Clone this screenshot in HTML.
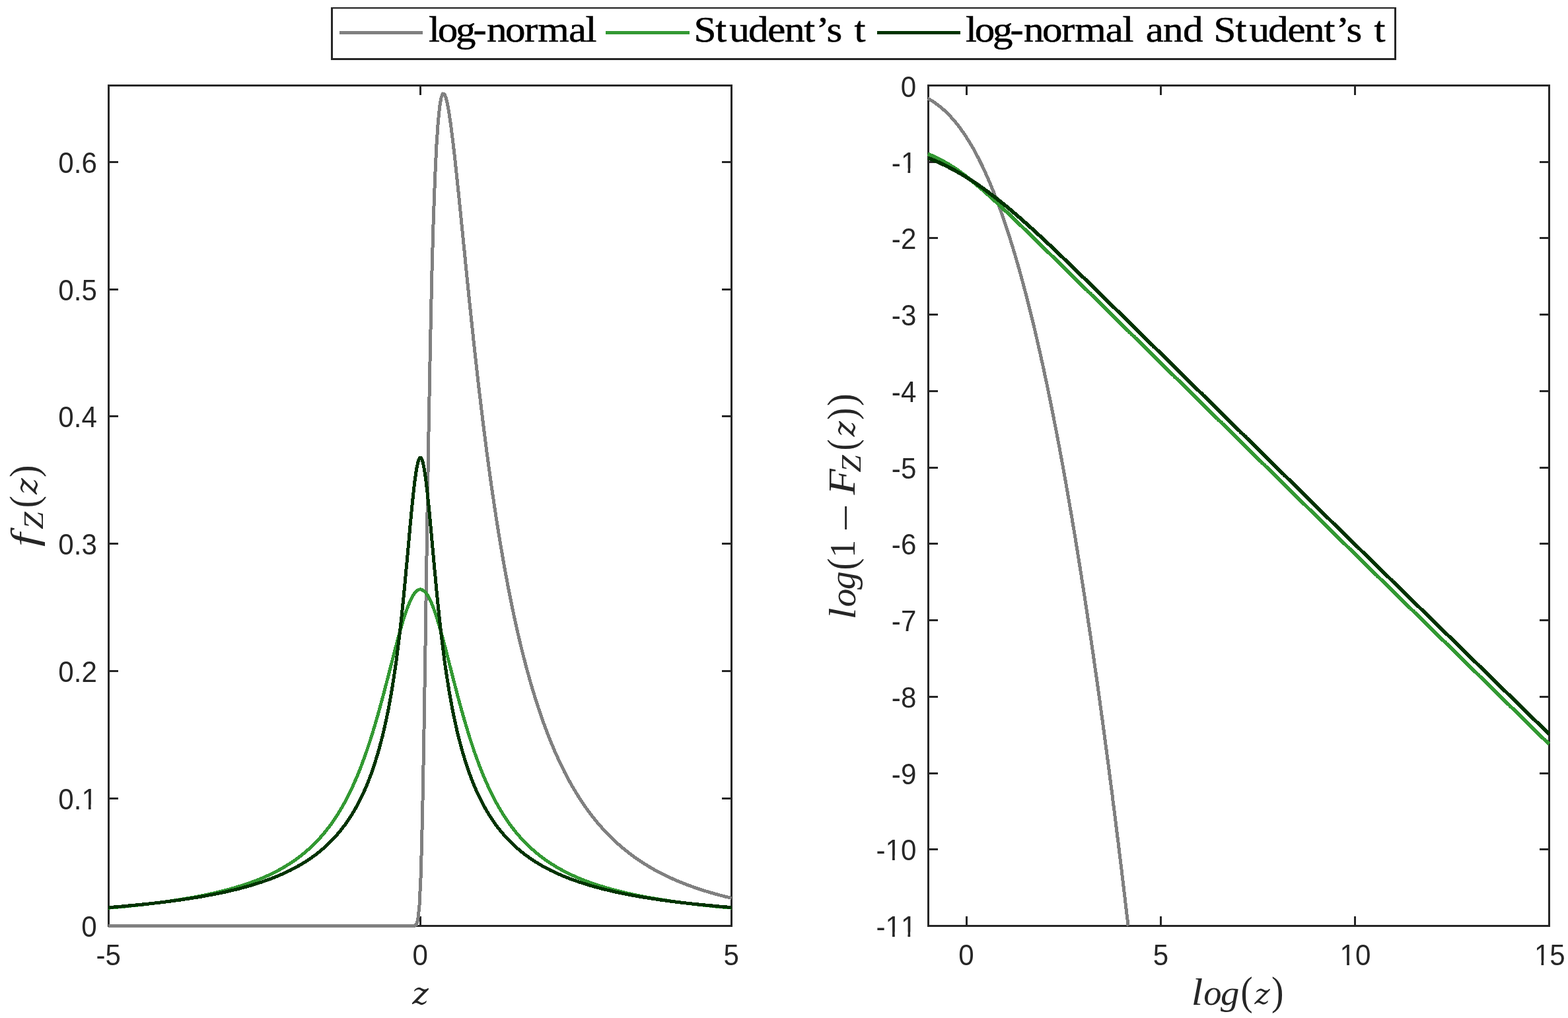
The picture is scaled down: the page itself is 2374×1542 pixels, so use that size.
<!DOCTYPE html>
<html lang="en"><head><meta charset="utf-8"><title>Densities and tails</title>
<style>html,body{margin:0;padding:0;background:#fff}svg{display:block}.tk{font-family:"Liberation Sans",sans-serif;font-kerning:none;font-size:44.2px;fill:#262626}.it{font-family:"Liberation Serif",serif;font-style:italic;font-size:100px;fill:#262626}.dj{font-family:"DejaVu Serif",serif;font-style:italic;font-size:100px;fill:#262626}.rm{font-family:"Liberation Serif",serif;font-size:100px;fill:#262626}.lg{font-family:"Liberation Serif",serif;font-size:100px;fill:#000;stroke:#000;stroke-width:1px}</style></head><body>
<svg width="2374" height="1542" viewBox="0 0 2374 1542" role="img" aria-label="Densities f_Z(z) and log tail probabilities log(1 - F_Z(z)) for log-normal, Student’s t, and log-normal and Student’s t">
<rect width="2374" height="1542" fill="#fff"/>
<g stroke="#262626" stroke-width="3" fill="none" stroke-linecap="butt">
<rect x="164.5" y="129.5" width="943.0" height="1273.0"/>
<path d="M164.5,1402.5V1388.0M164.5,129.5V144.0M636.5,1402.5V1388.0M636.5,129.5V144.0M1107.5,1402.5V1388.0M1107.5,129.5V144.0M164.5,1402.5H179.0M1107.5,1402.5H1093.0M164.5,1209.5H179.0M1107.5,1209.5H1093.0M164.5,1016.5H179.0M1107.5,1016.5H1093.0M164.5,823.5H179.0M1107.5,823.5H1093.0M164.5,630.5H179.0M1107.5,630.5H1093.0M164.5,438.5H179.0M1107.5,438.5H1093.0M164.5,245.5H179.0M1107.5,245.5H1093.0"/>
</g>
<g stroke="#262626" stroke-width="3" fill="none" stroke-linecap="butt">
<rect x="1405.5" y="129.5" width="940.0" height="1273.0"/>
<path d="M1463.5,1402.5V1388.0M1463.5,129.5V144.0M1757.5,1402.5V1388.0M1757.5,129.5V144.0M2051.5,1402.5V1388.0M2051.5,129.5V144.0M2345.5,1402.5V1388.0M2345.5,129.5V144.0M1405.5,129.5H1420.0M2345.5,129.5H2331.0M1405.5,245.5H1420.0M2345.5,245.5H2331.0M1405.5,360.5H1420.0M2345.5,360.5H2331.0M1405.5,476.5H1420.0M2345.5,476.5H2331.0M1405.5,592.5H1420.0M2345.5,592.5H2331.0M1405.5,708.5H1420.0M2345.5,708.5H2331.0M1405.5,823.5H1420.0M2345.5,823.5H2331.0M1405.5,939.5H1420.0M2345.5,939.5H2331.0M1405.5,1055.5H1420.0M2345.5,1055.5H2331.0M1405.5,1171.5H1420.0M2345.5,1171.5H2331.0M1405.5,1286.5H1420.0M2345.5,1286.5H2331.0M1405.5,1402.5H1420.0M2345.5,1402.5H2331.0"/>
</g>
<g class="tk">
<text transform="translate(164.2,1461.6) scale(0.953,1)" text-anchor="middle">-5</text>
<text transform="translate(636.2,1461.6) scale(0.953,1)" text-anchor="middle">0</text>
<text transform="translate(1107.2,1461.6) scale(0.953,1)" text-anchor="middle">5</text>
<text transform="translate(1463.0,1461.6) scale(0.953,1)" text-anchor="middle">0</text>
<text transform="translate(1757.5,1461.6) scale(0.953,1)" text-anchor="middle">5</text>
<text transform="translate(2052.0,1461.6) scale(0.953,1)" text-anchor="middle">10</text>
<text transform="translate(2346.3,1461.6) scale(0.953,1)" text-anchor="middle">15</text>
<text transform="translate(146.8,1418.7) scale(0.953,1)" text-anchor="end">0</text>
<text transform="translate(146.8,1225.7) scale(0.953,1)" text-anchor="end">0.1</text>
<text transform="translate(146.8,1032.7) scale(0.953,1)" text-anchor="end">0.2</text>
<text transform="translate(146.8,839.7) scale(0.953,1)" text-anchor="end">0.3</text>
<text transform="translate(146.8,646.7) scale(0.953,1)" text-anchor="end">0.4</text>
<text transform="translate(146.8,454.7) scale(0.953,1)" text-anchor="end">0.5</text>
<text transform="translate(146.8,261.7) scale(0.953,1)" text-anchor="end">0.6</text>
<text transform="translate(1387.3,146.7) scale(0.953,1)" text-anchor="end">0</text>
<text transform="translate(1387.3,261.7) scale(0.953,1)" text-anchor="end">-1</text>
<text transform="translate(1387.3,376.7) scale(0.953,1)" text-anchor="end">-2</text>
<text transform="translate(1387.3,492.7) scale(0.953,1)" text-anchor="end">-3</text>
<text transform="translate(1387.3,608.7) scale(0.953,1)" text-anchor="end">-4</text>
<text transform="translate(1387.3,724.7) scale(0.953,1)" text-anchor="end">-5</text>
<text transform="translate(1387.3,839.7) scale(0.953,1)" text-anchor="end">-6</text>
<text transform="translate(1387.3,955.7) scale(0.953,1)" text-anchor="end">-7</text>
<text transform="translate(1387.3,1071.7) scale(0.953,1)" text-anchor="end">-8</text>
<text transform="translate(1387.3,1187.7) scale(0.953,1)" text-anchor="end">-9</text>
<text transform="translate(1387.3,1302.7) scale(0.953,1)" text-anchor="end">-10</text>
<text transform="translate(1387.3,1418.7) scale(0.953,1)" text-anchor="end">-11</text>
</g>
<g fill="#fff"><rect x="2031.04" y="1454.48" width="8.12" height="8.20"/><rect x="2042.89" y="1454.48" width="7.80" height="8.20"/><rect x="2325.34" y="1454.48" width="8.12" height="8.20"/><rect x="2337.19" y="1454.48" width="7.80" height="8.20"/><rect x="125.84" y="1218.58" width="8.12" height="8.20"/><rect x="137.69" y="1218.58" width="7.80" height="8.20"/><rect x="1366.34" y="254.58" width="8.12" height="8.20"/><rect x="1378.19" y="254.58" width="7.80" height="8.20"/><rect x="1342.91" y="1295.58" width="8.12" height="8.20"/><rect x="1354.76" y="1295.58" width="7.80" height="8.20"/><rect x="1342.91" y="1411.58" width="8.12" height="8.20"/><rect x="1354.76" y="1411.58" width="7.80" height="8.20"/><rect x="1366.34" y="1411.58" width="8.12" height="8.20"/><rect x="1378.19" y="1411.58" width="7.80" height="8.20"/></g>
<g fill="none" stroke-width="5" stroke-linejoin="round" stroke-linecap="butt" shape-rendering="crispEdges">
<path stroke="#808080" d="M163.6,1402.5 L167.0,1402.5 L169.3,1402.5 L171.7,1402.5 L174.1,1402.5 L176.4,1402.5 L178.8,1402.5 L181.1,1402.5 L183.5,1402.5 L185.9,1402.5 L188.2,1402.5 L190.6,1402.5 L193.0,1402.5 L195.3,1402.5 L197.7,1402.5 L200.1,1402.5 L202.4,1402.5 L204.8,1402.5 L207.1,1402.5 L209.5,1402.5 L211.9,1402.5 L214.2,1402.5 L216.6,1402.5 L219.0,1402.5 L221.3,1402.5 L223.7,1402.5 L226.0,1402.5 L228.4,1402.5 L230.8,1402.5 L233.1,1402.5 L235.5,1402.5 L237.9,1402.5 L240.2,1402.5 L242.6,1402.5 L245.0,1402.5 L247.3,1402.5 L249.7,1402.5 L252.0,1402.5 L254.4,1402.5 L256.8,1402.5 L259.1,1402.5 L261.5,1402.5 L263.9,1402.5 L266.2,1402.5 L268.6,1402.5 L271.0,1402.5 L273.3,1402.5 L275.7,1402.5 L278.0,1402.5 L280.4,1402.5 L282.8,1402.5 L285.1,1402.5 L287.5,1402.5 L289.9,1402.5 L292.2,1402.5 L294.6,1402.5 L297.0,1402.5 L299.3,1402.5 L301.7,1402.5 L304.0,1402.5 L306.4,1402.5 L308.8,1402.5 L311.1,1402.5 L313.5,1402.5 L315.9,1402.5 L318.2,1402.5 L320.6,1402.5 L322.9,1402.5 L325.3,1402.5 L327.7,1402.5 L330.0,1402.5 L332.4,1402.5 L334.8,1402.5 L337.1,1402.5 L339.5,1402.5 L341.9,1402.5 L344.2,1402.5 L346.6,1402.5 L348.9,1402.5 L351.3,1402.5 L353.7,1402.5 L356.0,1402.5 L358.4,1402.5 L360.8,1402.5 L363.1,1402.5 L365.5,1402.5 L367.9,1402.5 L370.2,1402.5 L372.6,1402.5 L374.9,1402.5 L377.3,1402.5 L379.7,1402.5 L382.0,1402.5 L384.4,1402.5 L386.8,1402.5 L389.1,1402.5 L391.5,1402.5 L393.9,1402.5 L396.2,1402.5 L398.6,1402.5 L400.9,1402.5 L403.3,1402.5 L405.7,1402.5 L408.0,1402.5 L410.4,1402.5 L412.8,1402.5 L415.1,1402.5 L417.5,1402.5 L419.8,1402.5 L422.2,1402.5 L424.6,1402.5 L426.9,1402.5 L429.3,1402.5 L431.7,1402.5 L434.0,1402.5 L436.4,1402.5 L438.8,1402.5 L441.1,1402.5 L443.5,1402.5 L445.8,1402.5 L448.2,1402.5 L450.6,1402.5 L452.9,1402.5 L455.3,1402.5 L457.7,1402.5 L460.0,1402.5 L462.4,1402.5 L464.8,1402.5 L467.1,1402.5 L469.5,1402.5 L471.8,1402.5 L474.2,1402.5 L476.6,1402.5 L478.9,1402.5 L481.3,1402.5 L483.7,1402.5 L486.0,1402.5 L488.4,1402.5 L490.8,1402.5 L493.1,1402.5 L495.5,1402.5 L497.8,1402.5 L500.2,1402.5 L502.6,1402.5 L504.9,1402.5 L507.3,1402.5 L509.7,1402.5 L512.0,1402.5 L514.4,1402.5 L516.7,1402.5 L519.1,1402.5 L521.5,1402.5 L523.8,1402.5 L526.2,1402.5 L528.6,1402.5 L530.9,1402.5 L533.3,1402.5 L535.7,1402.5 L538.0,1402.5 L540.4,1402.5 L542.7,1402.5 L545.1,1402.5 L547.5,1402.5 L549.8,1402.5 L552.2,1402.5 L554.6,1402.5 L556.9,1402.5 L559.3,1402.5 L561.7,1402.5 L564.0,1402.5 L566.4,1402.5 L568.7,1402.5 L571.1,1402.5 L573.5,1402.5 L575.8,1402.5 L578.2,1402.5 L580.6,1402.5 L582.9,1402.5 L585.3,1402.5 L587.7,1402.5 L590.0,1402.5 L592.4,1402.5 L594.7,1402.5 L597.1,1402.5 L599.5,1402.5 L601.8,1402.5 L604.2,1402.5 L606.6,1402.5 L608.9,1402.5 L611.3,1402.5 L613.6,1402.5 L616.0,1402.5 L618.4,1402.5 L620.7,1402.5 L623.1,1402.5 L625.5,1402.5 L627.8,1402.2 L630.2,1400.7 L632.6,1394.1 L634.9,1373.2 L637.3,1323.9 L639.6,1234.5 L642.0,1105.9 L644.4,952.7 L646.7,795.1 L649.1,648.9 L651.5,522.2 L653.8,417.5 L656.2,333.8 L658.6,268.9 L660.9,220.3 L663.3,185.4 L665.6,161.9 L668.0,148.0 L670.4,141.9 L672.7,142.2 L675.1,147.8 L677.5,157.5 L679.8,170.7 L682.2,186.7 L684.5,204.8 L686.9,224.6 L689.3,245.6 L691.6,267.7 L694.0,290.4 L696.4,313.6 L698.7,337.1 L701.1,360.8 L703.5,384.4 L705.8,407.9 L708.2,431.2 L710.5,454.3 L712.9,477.0 L715.3,499.4 L717.6,521.4 L720.0,543.0 L722.4,564.1 L724.7,584.8 L727.1,604.9 L729.5,624.7 L731.8,643.9 L734.2,662.7 L736.5,680.9 L738.9,698.7 L741.3,716.1 L743.6,732.9 L746.0,749.4 L748.4,765.3 L750.7,780.9 L753.1,796.0 L755.5,810.7 L757.8,824.9 L760.2,838.8 L762.5,852.3 L764.9,865.4 L767.3,878.2 L769.6,890.6 L772.0,902.6 L774.4,914.3 L776.7,925.7 L779.1,936.8 L781.4,947.5 L783.8,958.0 L786.2,968.1 L788.5,978.0 L790.9,987.6 L793.3,997.0 L795.6,1006.1 L798.0,1014.9 L800.4,1023.5 L802.7,1031.9 L805.1,1040.0 L807.4,1047.9 L809.8,1055.6 L812.2,1063.1 L814.5,1070.4 L816.9,1077.5 L819.3,1084.5 L821.6,1091.2 L824.0,1097.8 L826.4,1104.2 L828.7,1110.4 L831.1,1116.5 L833.4,1122.4 L835.8,1128.1 L838.2,1133.7 L840.5,1139.2 L842.9,1144.5 L845.3,1149.7 L847.6,1154.8 L850.0,1159.8 L852.4,1164.6 L854.7,1169.3 L857.1,1173.9 L859.4,1178.3 L861.8,1182.7 L864.2,1187.0 L866.5,1191.1 L868.9,1195.2 L871.3,1199.1 L873.6,1203.0 L876.0,1206.8 L878.3,1210.5 L880.7,1214.1 L883.1,1217.6 L885.4,1221.0 L887.8,1224.4 L890.2,1227.6 L892.5,1230.8 L894.9,1234.0 L897.3,1237.0 L899.6,1240.0 L902.0,1242.9 L904.3,1245.8 L906.7,1248.6 L909.1,1251.3 L911.4,1254.0 L913.8,1256.6 L916.2,1259.2 L918.5,1261.7 L920.9,1264.1 L923.3,1266.5 L925.6,1268.8 L928.0,1271.1 L930.3,1273.4 L932.7,1275.6 L935.1,1277.7 L937.4,1279.8 L939.8,1281.9 L942.2,1283.9 L944.5,1285.9 L946.9,1287.8 L949.3,1289.7 L951.6,1291.5 L954.0,1293.4 L956.3,1295.1 L958.7,1296.9 L961.1,1298.6 L963.4,1300.3 L965.8,1301.9 L968.2,1303.5 L970.5,1305.1 L972.9,1306.6 L975.2,1308.2 L977.6,1309.6 L980.0,1311.1 L982.3,1312.5 L984.7,1313.9 L987.1,1315.3 L989.4,1316.6 L991.8,1318.0 L994.2,1319.3 L996.5,1320.5 L998.9,1321.8 L1001.2,1323.0 L1003.6,1324.2 L1006.0,1325.4 L1008.3,1326.5 L1010.7,1327.7 L1013.1,1328.8 L1015.4,1329.9 L1017.8,1330.9 L1020.2,1332.0 L1022.5,1333.0 L1024.9,1334.0 L1027.2,1335.0 L1029.6,1336.0 L1032.0,1337.0 L1034.3,1337.9 L1036.7,1338.8 L1039.1,1339.8 L1041.4,1340.7 L1043.8,1341.5 L1046.2,1342.4 L1048.5,1343.2 L1050.9,1344.1 L1053.2,1344.9 L1055.6,1345.7 L1058.0,1346.5 L1060.3,1347.3 L1062.7,1348.0 L1065.1,1348.8 L1067.4,1349.5 L1069.8,1350.2 L1072.1,1351.0 L1074.5,1351.7 L1076.9,1352.4 L1079.2,1353.0 L1081.6,1353.7 L1084.0,1354.4 L1086.3,1355.0 L1088.7,1355.6 L1091.1,1356.3 L1093.4,1356.9 L1095.8,1357.5 L1098.1,1358.1 L1100.5,1358.6 L1102.9,1359.2 L1105.2,1359.8 L1107.6,1360.3"/>
<path stroke="#339933" d="M164.0,1375.2 L167.4,1375.0 L169.7,1374.8 L172.1,1374.6 L174.5,1374.4 L176.8,1374.2 L179.2,1374.0 L181.5,1373.7 L183.9,1373.5 L186.3,1373.3 L188.6,1373.1 L191.0,1372.8 L193.4,1372.6 L195.7,1372.4 L198.1,1372.1 L200.5,1371.9 L202.8,1371.6 L205.2,1371.4 L207.5,1371.1 L209.9,1370.9 L212.3,1370.6 L214.6,1370.4 L217.0,1370.1 L219.4,1369.8 L221.7,1369.6 L224.1,1369.3 L226.4,1369.0 L228.8,1368.7 L231.2,1368.4 L233.5,1368.1 L235.9,1367.8 L238.3,1367.5 L240.6,1367.2 L243.0,1366.9 L245.4,1366.6 L247.7,1366.3 L250.1,1366.0 L252.4,1365.6 L254.8,1365.3 L257.2,1365.0 L259.5,1364.6 L261.9,1364.3 L264.3,1363.9 L266.6,1363.6 L269.0,1363.2 L271.4,1362.8 L273.7,1362.5 L276.1,1362.1 L278.4,1361.7 L280.8,1361.3 L283.2,1360.9 L285.5,1360.5 L287.9,1360.1 L290.3,1359.6 L292.6,1359.2 L295.0,1358.8 L297.4,1358.3 L299.7,1357.9 L302.1,1357.4 L304.4,1357.0 L306.8,1356.5 L309.2,1356.0 L311.5,1355.5 L313.9,1355.0 L316.3,1354.5 L318.6,1354.0 L321.0,1353.5 L323.3,1353.0 L325.7,1352.4 L328.1,1351.9 L330.4,1351.3 L332.8,1350.7 L335.2,1350.1 L337.5,1349.5 L339.9,1348.9 L342.3,1348.3 L344.6,1347.7 L347.0,1347.1 L349.3,1346.4 L351.7,1345.7 L354.1,1345.1 L356.4,1344.4 L358.8,1343.7 L361.2,1342.9 L363.5,1342.2 L365.9,1341.5 L368.3,1340.7 L370.6,1339.9 L373.0,1339.1 L375.3,1338.3 L377.7,1337.5 L380.1,1336.6 L382.4,1335.8 L384.8,1334.9 L387.2,1334.0 L389.5,1333.1 L391.9,1332.1 L394.3,1331.1 L396.6,1330.2 L399.0,1329.2 L401.3,1328.1 L403.7,1327.1 L406.1,1326.0 L408.4,1324.9 L410.8,1323.8 L413.2,1322.6 L415.5,1321.4 L417.9,1320.2 L420.2,1319.0 L422.6,1317.7 L425.0,1316.4 L427.3,1315.0 L429.7,1313.7 L432.1,1312.3 L434.4,1310.8 L436.8,1309.4 L439.2,1307.8 L441.5,1306.3 L443.9,1304.7 L446.2,1303.1 L448.6,1301.4 L451.0,1299.7 L453.3,1297.9 L455.7,1296.1 L458.1,1294.2 L460.4,1292.3 L462.8,1290.3 L465.2,1288.2 L467.5,1286.1 L469.9,1284.0 L472.2,1281.8 L474.6,1279.5 L477.0,1277.1 L479.3,1274.7 L481.7,1272.2 L484.1,1269.6 L486.4,1267.0 L488.8,1264.3 L491.2,1261.4 L493.5,1258.5 L495.9,1255.5 L498.2,1252.5 L500.6,1249.3 L503.0,1246.0 L505.3,1242.6 L507.7,1239.1 L510.1,1235.4 L512.4,1231.7 L514.8,1227.8 L517.1,1223.8 L519.5,1219.7 L521.9,1215.4 L524.2,1211.0 L526.6,1206.4 L529.0,1201.7 L531.3,1196.8 L533.7,1191.8 L536.1,1186.5 L538.4,1181.1 L540.8,1175.6 L543.1,1169.8 L545.5,1163.9 L547.9,1157.7 L550.2,1151.4 L552.6,1144.8 L555.0,1138.1 L557.3,1131.1 L559.7,1123.9 L562.1,1116.6 L564.4,1109.0 L566.8,1101.2 L569.1,1093.2 L571.5,1085.0 L573.9,1076.6 L576.2,1068.1 L578.6,1059.3 L581.0,1050.5 L583.3,1041.5 L585.7,1032.4 L588.1,1023.2 L590.4,1014.0 L592.8,1004.7 L595.1,995.5 L597.5,986.4 L599.9,977.3 L602.2,968.5 L604.6,959.8 L607.0,951.4 L609.3,943.4 L611.7,935.7 L614.0,928.5 L616.4,921.9 L618.8,915.7 L621.1,910.2 L623.5,905.4 L625.9,901.3 L628.2,898.0 L630.6,895.5 L633.0,893.8 L635.3,892.9 L637.7,892.9 L640.0,893.8 L642.4,895.5 L644.8,898.0 L647.1,901.3 L649.5,905.4 L651.9,910.2 L654.2,915.7 L656.6,921.9 L659.0,928.5 L661.3,935.7 L663.7,943.4 L666.0,951.4 L668.4,959.8 L670.8,968.5 L673.1,977.3 L675.5,986.4 L677.9,995.5 L680.2,1004.7 L682.6,1014.0 L684.9,1023.2 L687.3,1032.4 L689.7,1041.5 L692.0,1050.5 L694.4,1059.3 L696.8,1068.1 L699.1,1076.6 L701.5,1085.0 L703.9,1093.2 L706.2,1101.2 L708.6,1109.0 L710.9,1116.6 L713.3,1123.9 L715.7,1131.1 L718.0,1138.1 L720.4,1144.8 L722.8,1151.4 L725.1,1157.7 L727.5,1163.9 L729.9,1169.8 L732.2,1175.6 L734.6,1181.1 L736.9,1186.5 L739.3,1191.8 L741.7,1196.8 L744.0,1201.7 L746.4,1206.4 L748.8,1211.0 L751.1,1215.4 L753.5,1219.7 L755.9,1223.8 L758.2,1227.8 L760.6,1231.7 L762.9,1235.4 L765.3,1239.1 L767.7,1242.6 L770.0,1246.0 L772.4,1249.3 L774.8,1252.5 L777.1,1255.5 L779.5,1258.5 L781.8,1261.4 L784.2,1264.3 L786.6,1267.0 L788.9,1269.6 L791.3,1272.2 L793.7,1274.7 L796.0,1277.1 L798.4,1279.5 L800.8,1281.8 L803.1,1284.0 L805.5,1286.1 L807.8,1288.2 L810.2,1290.3 L812.6,1292.3 L814.9,1294.2 L817.3,1296.1 L819.7,1297.9 L822.0,1299.7 L824.4,1301.4 L826.8,1303.1 L829.1,1304.7 L831.5,1306.3 L833.8,1307.8 L836.2,1309.4 L838.6,1310.8 L840.9,1312.3 L843.3,1313.7 L845.7,1315.0 L848.0,1316.4 L850.4,1317.7 L852.8,1319.0 L855.1,1320.2 L857.5,1321.4 L859.8,1322.6 L862.2,1323.8 L864.6,1324.9 L866.9,1326.0 L869.3,1327.1 L871.7,1328.1 L874.0,1329.2 L876.4,1330.2 L878.7,1331.1 L881.1,1332.1 L883.5,1333.1 L885.8,1334.0 L888.2,1334.9 L890.6,1335.8 L892.9,1336.6 L895.3,1337.5 L897.7,1338.3 L900.0,1339.1 L902.4,1339.9 L904.7,1340.7 L907.1,1341.5 L909.5,1342.2 L911.8,1342.9 L914.2,1343.7 L916.6,1344.4 L918.9,1345.1 L921.3,1345.7 L923.7,1346.4 L926.0,1347.1 L928.4,1347.7 L930.7,1348.3 L933.1,1348.9 L935.5,1349.5 L937.8,1350.1 L940.2,1350.7 L942.6,1351.3 L944.9,1351.9 L947.3,1352.4 L949.7,1353.0 L952.0,1353.5 L954.4,1354.0 L956.7,1354.5 L959.1,1355.0 L961.5,1355.5 L963.8,1356.0 L966.2,1356.5 L968.6,1357.0 L970.9,1357.4 L973.3,1357.9 L975.6,1358.3 L978.0,1358.8 L980.4,1359.2 L982.7,1359.6 L985.1,1360.1 L987.5,1360.5 L989.8,1360.9 L992.2,1361.3 L994.6,1361.7 L996.9,1362.1 L999.3,1362.5 L1001.6,1362.8 L1004.0,1363.2 L1006.4,1363.6 L1008.7,1363.9 L1011.1,1364.3 L1013.5,1364.6 L1015.8,1365.0 L1018.2,1365.3 L1020.6,1365.6 L1022.9,1366.0 L1025.3,1366.3 L1027.6,1366.6 L1030.0,1366.9 L1032.4,1367.2 L1034.7,1367.5 L1037.1,1367.8 L1039.5,1368.1 L1041.8,1368.4 L1044.2,1368.7 L1046.6,1369.0 L1048.9,1369.3 L1051.3,1369.6 L1053.6,1369.8 L1056.0,1370.1 L1058.4,1370.4 L1060.7,1370.6 L1063.1,1370.9 L1065.5,1371.1 L1067.8,1371.4 L1070.2,1371.6 L1072.5,1371.9 L1074.9,1372.1 L1077.3,1372.4 L1079.6,1372.6 L1082.0,1372.8 L1084.4,1373.1 L1086.7,1373.3 L1089.1,1373.5 L1091.5,1373.7 L1093.8,1374.0 L1096.2,1374.2 L1098.5,1374.4 L1100.9,1374.6 L1103.3,1374.8 L1105.6,1375.0 L1108.0,1375.2"/>
<path stroke="#003300" d="M164.0,1374.6 L167.4,1374.4 L169.7,1374.2 L172.1,1374.0 L174.5,1373.8 L176.8,1373.6 L179.2,1373.4 L181.5,1373.2 L183.9,1373.0 L186.3,1372.8 L188.6,1372.6 L191.0,1372.4 L193.4,1372.1 L195.7,1371.9 L198.1,1371.7 L200.5,1371.5 L202.8,1371.3 L205.2,1371.0 L207.5,1370.8 L209.9,1370.6 L212.3,1370.3 L214.6,1370.1 L217.0,1369.8 L219.4,1369.6 L221.7,1369.3 L224.1,1369.1 L226.4,1368.8 L228.8,1368.6 L231.2,1368.3 L233.5,1368.1 L235.9,1367.8 L238.3,1367.5 L240.6,1367.2 L243.0,1367.0 L245.4,1366.7 L247.7,1366.4 L250.1,1366.1 L252.4,1365.8 L254.8,1365.5 L257.2,1365.2 L259.5,1364.9 L261.9,1364.6 L264.3,1364.3 L266.6,1363.9 L269.0,1363.6 L271.4,1363.3 L273.7,1363.0 L276.1,1362.6 L278.4,1362.3 L280.8,1361.9 L283.2,1361.6 L285.5,1361.2 L287.9,1360.9 L290.3,1360.5 L292.6,1360.1 L295.0,1359.7 L297.4,1359.3 L299.7,1359.0 L302.1,1358.6 L304.4,1358.2 L306.8,1357.7 L309.2,1357.3 L311.5,1356.9 L313.9,1356.5 L316.3,1356.0 L318.6,1355.6 L321.0,1355.2 L323.3,1354.7 L325.7,1354.2 L328.1,1353.8 L330.4,1353.3 L332.8,1352.8 L335.2,1352.3 L337.5,1351.8 L339.9,1351.3 L342.3,1350.8 L344.6,1350.2 L347.0,1349.7 L349.3,1349.1 L351.7,1348.6 L354.1,1348.0 L356.4,1347.5 L358.8,1346.9 L361.2,1346.3 L363.5,1345.7 L365.9,1345.0 L368.3,1344.4 L370.6,1343.8 L373.0,1343.1 L375.3,1342.4 L377.7,1341.8 L380.1,1341.1 L382.4,1340.4 L384.8,1339.7 L387.2,1338.9 L389.5,1338.2 L391.9,1337.4 L394.3,1336.6 L396.6,1335.9 L399.0,1335.0 L401.3,1334.2 L403.7,1333.4 L406.1,1332.5 L408.4,1331.7 L410.8,1330.8 L413.2,1329.8 L415.5,1328.9 L417.9,1328.0 L420.2,1327.0 L422.6,1326.0 L425.0,1325.0 L427.3,1323.9 L429.7,1322.9 L432.1,1321.8 L434.4,1320.7 L436.8,1319.5 L439.2,1318.4 L441.5,1317.2 L443.9,1316.0 L446.2,1314.7 L448.6,1313.4 L451.0,1312.1 L453.3,1310.8 L455.7,1309.4 L458.1,1308.0 L460.4,1306.5 L462.8,1305.1 L465.2,1303.5 L467.5,1302.0 L469.9,1300.3 L472.2,1298.7 L474.6,1297.0 L477.0,1295.3 L479.3,1293.5 L481.7,1291.6 L484.1,1289.7 L486.4,1287.8 L488.8,1285.8 L491.2,1283.7 L493.5,1281.5 L495.9,1279.4 L498.2,1277.1 L500.6,1274.7 L503.0,1272.3 L505.3,1269.8 L507.7,1267.3 L510.1,1264.6 L512.4,1261.9 L514.8,1259.0 L517.1,1256.1 L519.5,1253.0 L521.9,1249.9 L524.2,1246.6 L526.6,1243.2 L529.0,1239.7 L531.3,1236.1 L533.7,1232.3 L536.1,1228.3 L538.4,1224.2 L540.8,1219.9 L543.1,1215.5 L545.5,1210.9 L547.9,1206.0 L550.2,1201.0 L552.6,1195.7 L555.0,1190.2 L557.3,1184.4 L559.7,1178.3 L562.1,1172.0 L564.4,1165.3 L566.8,1158.2 L569.1,1150.8 L571.5,1143.1 L573.9,1134.8 L576.2,1126.1 L578.6,1116.9 L581.0,1107.2 L583.3,1096.8 L585.7,1085.7 L588.1,1074.0 L590.4,1061.4 L592.8,1048.0 L595.1,1033.6 L597.5,1018.1 L599.9,1001.5 L602.2,983.6 L604.6,964.3 L607.0,943.6 L609.3,921.5 L611.7,898.0 L614.0,873.2 L616.4,847.5 L618.8,821.3 L621.1,795.3 L623.5,770.2 L625.9,747.1 L628.2,726.9 L630.6,710.7 L633.0,699.4 L635.3,693.5 L637.7,693.5 L640.0,699.4 L642.4,710.7 L644.8,726.9 L647.1,747.1 L649.5,770.2 L651.9,795.3 L654.2,821.3 L656.6,847.5 L659.0,873.2 L661.3,898.0 L663.7,921.5 L666.0,943.6 L668.4,964.3 L670.8,983.6 L673.1,1001.5 L675.5,1018.1 L677.9,1033.6 L680.2,1048.0 L682.6,1061.4 L684.9,1074.0 L687.3,1085.7 L689.7,1096.8 L692.0,1107.2 L694.4,1116.9 L696.8,1126.1 L699.1,1134.8 L701.5,1143.1 L703.9,1150.8 L706.2,1158.2 L708.6,1165.3 L710.9,1172.0 L713.3,1178.3 L715.7,1184.4 L718.0,1190.2 L720.4,1195.7 L722.8,1201.0 L725.1,1206.0 L727.5,1210.9 L729.9,1215.5 L732.2,1219.9 L734.6,1224.2 L736.9,1228.3 L739.3,1232.3 L741.7,1236.1 L744.0,1239.7 L746.4,1243.2 L748.8,1246.6 L751.1,1249.9 L753.5,1253.0 L755.9,1256.1 L758.2,1259.0 L760.6,1261.9 L762.9,1264.6 L765.3,1267.3 L767.7,1269.8 L770.0,1272.3 L772.4,1274.7 L774.8,1277.1 L777.1,1279.4 L779.5,1281.5 L781.8,1283.7 L784.2,1285.8 L786.6,1287.8 L788.9,1289.7 L791.3,1291.6 L793.7,1293.5 L796.0,1295.3 L798.4,1297.0 L800.8,1298.7 L803.1,1300.3 L805.5,1302.0 L807.8,1303.5 L810.2,1305.1 L812.6,1306.5 L814.9,1308.0 L817.3,1309.4 L819.7,1310.8 L822.0,1312.1 L824.4,1313.4 L826.8,1314.7 L829.1,1316.0 L831.5,1317.2 L833.8,1318.4 L836.2,1319.5 L838.6,1320.7 L840.9,1321.8 L843.3,1322.9 L845.7,1323.9 L848.0,1325.0 L850.4,1326.0 L852.8,1327.0 L855.1,1328.0 L857.5,1328.9 L859.8,1329.8 L862.2,1330.8 L864.6,1331.7 L866.9,1332.5 L869.3,1333.4 L871.7,1334.2 L874.0,1335.0 L876.4,1335.9 L878.7,1336.6 L881.1,1337.4 L883.5,1338.2 L885.8,1338.9 L888.2,1339.7 L890.6,1340.4 L892.9,1341.1 L895.3,1341.8 L897.7,1342.4 L900.0,1343.1 L902.4,1343.8 L904.7,1344.4 L907.1,1345.0 L909.5,1345.7 L911.8,1346.3 L914.2,1346.9 L916.6,1347.5 L918.9,1348.0 L921.3,1348.6 L923.7,1349.1 L926.0,1349.7 L928.4,1350.2 L930.7,1350.8 L933.1,1351.3 L935.5,1351.8 L937.8,1352.3 L940.2,1352.8 L942.6,1353.3 L944.9,1353.8 L947.3,1354.2 L949.7,1354.7 L952.0,1355.2 L954.4,1355.6 L956.7,1356.0 L959.1,1356.5 L961.5,1356.9 L963.8,1357.3 L966.2,1357.7 L968.6,1358.2 L970.9,1358.6 L973.3,1359.0 L975.6,1359.3 L978.0,1359.7 L980.4,1360.1 L982.7,1360.5 L985.1,1360.9 L987.5,1361.2 L989.8,1361.6 L992.2,1361.9 L994.6,1362.3 L996.9,1362.6 L999.3,1363.0 L1001.6,1363.3 L1004.0,1363.6 L1006.4,1363.9 L1008.7,1364.3 L1011.1,1364.6 L1013.5,1364.9 L1015.8,1365.2 L1018.2,1365.5 L1020.6,1365.8 L1022.9,1366.1 L1025.3,1366.4 L1027.6,1366.7 L1030.0,1367.0 L1032.4,1367.2 L1034.7,1367.5 L1037.1,1367.8 L1039.5,1368.1 L1041.8,1368.3 L1044.2,1368.6 L1046.6,1368.8 L1048.9,1369.1 L1051.3,1369.3 L1053.6,1369.6 L1056.0,1369.8 L1058.4,1370.1 L1060.7,1370.3 L1063.1,1370.6 L1065.5,1370.8 L1067.8,1371.0 L1070.2,1371.3 L1072.5,1371.5 L1074.9,1371.7 L1077.3,1371.9 L1079.6,1372.1 L1082.0,1372.4 L1084.4,1372.6 L1086.7,1372.8 L1089.1,1373.0 L1091.5,1373.2 L1093.8,1373.4 L1096.2,1373.6 L1098.5,1373.8 L1100.9,1374.0 L1103.3,1374.2 L1105.6,1374.4 L1108.0,1374.6"/>
</g>
<g fill="none" stroke-width="5" stroke-linejoin="round" stroke-linecap="butt" shape-rendering="crispEdges">
<path stroke="#808080" stroke-width="5.0" d="M1404.6,149.5 L1406.8,150.2 L1407.9,150.9 L1409.1,151.6 L1410.3,152.3 L1411.5,153.0 L1412.6,153.8 L1413.8,154.6 L1415.0,155.4 L1416.2,156.2 L1417.3,157.1 L1418.5,157.9 L1419.7,158.8 L1420.9,159.7 L1422.0,160.6 L1423.2,161.6 L1424.4,162.5 L1425.6,163.5 L1426.8,164.5 L1427.9,165.5 L1429.1,166.6 L1430.3,167.7 L1431.4,168.8 L1432.6,169.9 L1433.8,171.0 L1435.0,172.2 L1436.1,173.4 L1437.3,174.6 L1438.5,175.8 L1439.7,177.1 L1440.8,178.4 L1442.0,179.7 L1443.2,181.0 L1444.4,182.4 L1445.5,183.8 L1446.7,185.2 L1447.9,186.7 L1449.1,188.1 L1450.2,189.6 L1451.4,191.1 L1452.6,192.7 L1453.8,194.3 L1454.9,195.9 L1456.1,197.5 L1457.3,199.2 L1458.5,200.8 L1459.6,202.6 L1460.8,204.3 L1462.0,206.1 L1463.2,207.9 L1464.3,209.7 L1465.5,211.6 L1466.7,213.5 L1467.9,215.4 L1469.0,217.3 L1470.2,219.3 L1471.4,221.3 L1472.6,223.4 L1473.8,225.4 L1474.9,227.6 L1476.1,229.7 L1477.3,231.9 L1478.4,234.1 L1479.6,236.3 L1480.8,238.5 L1482.0,240.8 L1483.1,243.2 L1484.3,245.5 L1485.5,247.9 L1486.7,250.3 L1487.8,252.8 L1489.0,255.3 L1490.2,257.8 L1491.4,260.4 L1492.5,263.0 L1493.7,265.6 L1494.9,268.2 L1496.1,270.9 L1497.2,273.7 L1498.4,276.4 L1499.6,279.2 L1500.8,282.0 L1501.9,284.9 L1503.1,287.8 L1504.3,290.7 L1505.5,293.7 L1506.6,296.7 L1507.8,299.8 L1509.0,302.8 L1510.2,305.9 L1511.3,309.1 L1512.5,312.3 L1513.7,315.5 L1514.9,318.7 L1516.0,322.0 L1517.2,325.4 L1518.4,328.7 L1519.6,332.1 L1520.8,335.6 L1521.9,339.0 L1523.1,342.6 L1524.3,346.1 L1525.4,349.7 L1526.6,353.3 L1527.8,357.0 L1529.0,360.7 L1530.1,364.4 L1531.3,368.2 L1532.5,372.0 L1533.7,375.8 L1534.8,379.7 L1536.0,383.7 L1537.2,387.6 L1538.4,391.6 L1539.5,395.7 L1540.7,399.7 L1541.9,403.9 L1543.1,408.0 L1544.2,412.2 L1545.4,416.4 L1546.6,420.7 L1547.8,425.0 L1548.9,429.4 L1550.1,433.8 L1551.3,438.2 L1552.5,442.7 L1553.6,447.2 L1554.8,451.7 L1556.0,456.3 L1557.2,460.9 L1558.3,465.6 L1559.5,470.3 L1560.7,475.0 L1561.9,479.8 L1563.0,484.6 L1564.2,489.5 L1565.4,494.4 L1566.6,499.4 L1567.8,504.3 L1568.9,509.4 L1570.1,514.4 L1571.3,519.5 L1572.4,524.7 L1573.6,529.9 L1574.8,535.1 L1576.0,540.4 L1577.1,545.7 L1578.3,551.0 L1579.5,556.4 L1580.7,561.8 L1581.8,567.3 L1583.0,572.8 L1584.2,578.4 L1585.4,584.0 L1586.5,589.6 L1587.7,595.3 L1588.9,601.0 L1590.1,606.8 L1591.2,612.6 L1592.4,618.4 L1593.6,624.3 L1594.8,630.2 L1595.9,636.2 L1597.1,642.2 L1598.3,648.3 L1599.5,654.4 L1600.6,660.5 L1601.8,666.7 L1603.0,672.9 L1604.2,679.1 L1605.3,685.4 L1606.5,691.8 L1607.7,698.2 L1608.9,704.6 L1610.0,711.1 L1611.2,717.6 L1612.4,724.1 L1613.6,730.7 L1614.8,737.4 L1615.9,744.1 L1617.1,750.8 L1618.3,757.5 L1619.4,764.4 L1620.6,771.2 L1621.8,778.1 L1623.0,785.0 L1624.1,792.0 L1625.3,799.0 L1626.5,806.1 L1627.7,813.2 L1628.8,820.4 L1630.0,827.5 L1631.2,834.8 L1632.4,842.1 L1633.5,849.4 L1634.7,856.7 L1635.9,864.1 L1637.1,871.6 L1638.2,879.1 L1639.4,886.6 L1640.6,894.2 L1641.8,901.8 L1642.9,909.5 L1644.1,917.2 L1645.3,924.9 L1646.5,932.7 L1647.6,940.6 L1648.8,948.4 L1650.0,956.4 L1651.2,964.3 L1652.3,972.3 L1653.5,980.4 L1654.7,988.5 L1655.9,996.6 L1657.0,1004.8 L1658.2,1013.0 L1659.4,1021.3 L1660.6,1029.6 L1661.8,1038.0 L1662.9,1046.4 L1664.1,1054.8 L1665.3,1063.3 L1666.4,1071.8 L1667.6,1080.4 L1668.8,1089.0 L1670.0,1097.7 L1671.1,1106.4 L1672.3,1115.1 L1673.5,1123.9 L1674.7,1132.8 L1675.8,1141.6 L1677.0,1150.6 L1678.2,1159.5 L1679.4,1168.5 L1680.5,1177.6 L1681.7,1186.7 L1682.9,1195.8 L1684.1,1205.0 L1685.2,1214.3 L1686.4,1223.5 L1687.6,1232.8 L1688.8,1242.2 L1689.9,1251.6 L1691.1,1261.1 L1692.3,1270.6 L1693.5,1280.1 L1694.6,1289.7 L1695.8,1299.3 L1697.0,1309.0 L1698.2,1318.7 L1699.3,1328.4 L1700.5,1338.2 L1701.7,1348.1 L1702.9,1358.0 L1704.0,1367.9 L1705.2,1377.9 L1706.4,1387.9 L1707.6,1398.0 L1708.1,1402.5"/>
<path stroke="#339933" stroke-width="5.6" d="M1404.6,233.6 L1406.8,234.1 L1407.9,234.6 L1409.1,235.1 L1410.3,235.6 L1411.5,236.1 L1412.6,236.6 L1413.8,237.1 L1415.0,237.7 L1416.2,238.2 L1417.3,238.8 L1418.5,239.3 L1419.7,239.9 L1420.9,240.5 L1422.0,241.1 L1423.2,241.7 L1424.4,242.3 L1425.6,242.9 L1426.8,243.5 L1427.9,244.2 L1429.1,244.8 L1430.3,245.5 L1431.4,246.1 L1432.6,246.8 L1433.8,247.5 L1435.0,248.2 L1436.1,248.9 L1437.3,249.6 L1438.5,250.3 L1439.7,251.1 L1440.8,251.8 L1442.0,252.5 L1443.2,253.3 L1444.4,254.1 L1445.5,254.8 L1446.7,255.6 L1447.9,256.4 L1449.1,257.2 L1450.2,258.0 L1451.4,258.9 L1452.6,259.7 L1453.8,260.5 L1454.9,261.4 L1456.1,262.2 L1457.3,263.1 L1458.5,263.9 L1459.6,264.8 L1460.8,265.7 L1462.0,266.6 L1463.2,267.5 L1464.3,268.4 L1465.5,269.3 L1466.7,270.2 L1467.9,271.2 L1469.0,272.1 L1470.2,273.0 L1471.4,274.0 L1472.6,274.9 L1473.8,275.9 L1474.9,276.9 L1476.1,277.8 L1477.3,278.8 L1478.4,279.8 L1479.6,280.8 L1480.8,281.8 L1482.0,282.8 L1483.1,283.8 L1484.3,284.8 L1485.5,285.8 L1486.7,286.8 L1487.8,287.8 L1489.0,288.9 L1490.2,289.9 L1491.4,290.9 L1492.5,292.0 L1493.7,293.0 L1494.9,294.1 L1496.1,295.1 L1497.2,296.2 L1498.4,297.2 L1499.6,298.3 L1500.8,299.4 L1501.9,300.4 L1503.1,301.5 L1504.3,302.6 L1505.5,303.7 L1506.6,304.7 L1507.8,305.8 L1509.0,306.9 L1510.2,308.0 L1511.3,309.1 L1512.5,310.2 L1513.7,311.3 L1514.9,312.4 L1516.0,313.5 L1517.2,314.6 L1518.4,315.7 L1519.6,316.8 L1520.8,317.9 L1521.9,319.0 L1523.1,320.1 L1524.3,321.2 L1525.4,322.3 L1526.6,323.5 L1527.8,324.6 L1529.0,325.7 L1530.1,326.8 L1531.3,327.9 L1532.5,329.1 L1533.7,330.2 L1534.8,331.3 L1536.0,332.4 L1537.2,333.6 L1538.4,334.7 L1539.5,335.8 L1540.7,337.0 L1541.9,338.1 L1543.1,339.2 L1544.2,340.4 L1545.4,341.5 L1546.6,342.6 L1547.8,343.8 L1548.9,344.9 L1550.1,346.1 L1551.3,347.2 L1552.5,348.3 L1553.6,349.5 L1554.8,350.6 L1556.0,351.8 L1557.2,352.9 L1558.3,354.0 L1559.5,355.2 L1560.7,356.3 L1561.9,357.5 L1563.0,358.6 L1564.2,359.8 L1565.4,360.9 L1566.6,362.1 L1567.8,363.2 L1568.9,364.4 L1570.1,365.5 L1571.3,366.6 L1572.4,367.8 L1573.6,368.9 L1574.8,370.1 L1576.0,371.2 L1577.1,372.4 L1578.3,373.5 L1579.5,374.7 L1580.7,375.8 L1581.8,377.0 L1583.0,378.1 L1584.2,379.3 L1585.4,380.5 L1586.5,381.6 L1587.7,382.8 L1588.9,383.9 L1590.1,385.1 L1591.2,386.2 L1592.4,387.4 L1593.6,388.5 L1594.8,389.7 L1595.9,390.8 L1597.1,392.0 L1598.3,393.1 L1599.5,394.3 L1600.6,395.4 L1601.8,396.6 L1603.0,397.7 L1604.2,398.9 L1605.3,400.1 L1606.5,401.2 L1607.7,402.4 L1608.9,403.5 L1610.0,404.7 L1611.2,405.8 L1612.4,407.0 L1613.6,408.1 L1614.8,409.3 L1615.9,410.4 L1617.1,411.6 L1618.3,412.8 L1619.4,413.9 L1620.6,415.1 L1621.8,416.2 L1623.0,417.4 L1624.1,418.5 L1625.3,419.7 L1626.5,420.8 L1627.7,422.0 L1628.8,423.2 L1630.0,424.3 L1631.2,425.5 L1632.4,426.6 L1633.5,427.8 L1634.7,428.9 L1635.9,430.1 L1637.1,431.3 L1638.2,432.4 L1639.4,433.6 L1640.6,434.7 L1641.8,435.9 L1642.9,437.0 L1644.1,438.2 L1645.3,439.3 L1646.5,440.5 L1647.6,441.7 L1648.8,442.8 L1650.0,444.0 L1651.2,445.1 L1652.3,446.3 L1653.5,447.4 L1654.7,448.6 L1655.9,449.8 L1657.0,450.9 L1658.2,452.1 L1659.4,453.2 L1660.6,454.4 L1661.8,455.5 L1662.9,456.7 L1664.1,457.9 L1665.3,459.0 L1666.4,460.2 L1667.6,461.3 L1668.8,462.5 L1670.0,463.6 L1671.1,464.8 L1672.3,466.0 L1673.5,467.1 L1674.7,468.3 L1675.8,469.4 L1677.0,470.6 L1678.2,471.7 L1679.4,472.9 L1680.5,474.1 L1681.7,475.2 L1682.9,476.4 L1684.1,477.5 L1685.2,478.7 L1686.4,479.8 L1687.6,481.0 L1688.8,482.2 L1689.9,483.3 L1691.1,484.5 L1692.3,485.6 L1693.5,486.8 L1694.6,487.9 L1695.8,489.1 L1697.0,490.3 L1698.2,491.4 L1699.3,492.6 L1700.5,493.7 L1701.7,494.9 L1702.9,496.0 L1704.0,497.2 L1705.2,498.4 L1706.4,499.5 L1707.6,500.7 L1708.8,501.8 L1709.9,503.0 L1711.1,504.1 L1712.3,505.3 L1713.4,506.5 L1714.6,507.6 L1715.8,508.8 L1717.0,509.9 L1718.1,511.1 L1719.3,512.2 L1720.5,513.4 L1721.7,514.6 L1722.8,515.7 L1724.0,516.9 L1725.2,518.0 L1726.4,519.2 L1727.5,520.3 L1728.7,521.5 L1729.9,522.7 L1731.1,523.8 L1732.2,525.0 L1733.4,526.1 L1734.6,527.3 L1735.8,528.4 L1736.9,529.6 L1738.1,530.8 L1739.3,531.9 L1740.5,533.1 L1741.6,534.2 L1742.8,535.4 L1744.0,536.5 L1745.2,537.7 L1746.3,538.9 L1747.5,540.0 L1748.7,541.2 L1749.9,542.3 L1751.0,543.5 L1752.2,544.6 L1753.4,545.8 L1754.6,547.0 L1755.8,548.1 L1756.9,549.3 L1758.1,550.4 L1759.3,551.6 L1760.4,552.7 L1761.6,553.9 L1762.8,555.1 L1764.0,556.2 L1765.1,557.4 L1766.3,558.5 L1767.5,559.7 L1768.7,560.8 L1769.8,562.0 L1771.0,563.2 L1772.2,564.3 L1773.4,565.5 L1774.5,566.6 L1775.7,567.8 L1776.9,568.9 L1778.1,570.1 L1779.2,571.3 L1780.4,572.4 L1781.6,573.6 L1782.8,574.7 L1783.9,575.9 L1785.1,577.0 L1786.3,578.2 L1787.5,579.4 L1788.6,580.5 L1789.8,581.7 L1791.0,582.8 L1792.2,584.0 L1793.3,585.1 L1794.5,586.3 L1795.7,587.5 L1796.9,588.6 L1798.0,589.8 L1799.2,590.9 L1800.4,592.1 L1801.6,593.2 L1802.8,594.4 L1803.9,595.6 L1805.1,596.7 L1806.3,597.9 L1807.4,599.0 L1808.6,600.2 L1809.8,601.3 L1811.0,602.5 L1812.1,603.7 L1813.3,604.8 L1814.5,606.0 L1815.7,607.1 L1816.8,608.3 L1818.0,609.4 L1819.2,610.6 L1820.4,611.8 L1821.5,612.9 L1822.7,614.1 L1823.9,615.2 L1825.1,616.4 L1826.2,617.6 L1827.4,618.7 L1828.6,619.9 L1829.8,621.0 L1830.9,622.2 L1832.1,623.3 L1833.3,624.5 L1834.5,625.7 L1835.6,626.8 L1836.8,628.0 L1838.0,629.1 L1839.2,630.3 L1840.3,631.4 L1841.5,632.6 L1842.7,633.8 L1843.9,634.9 L1845.0,636.1 L1846.2,637.2 L1847.4,638.4 L1848.6,639.5 L1849.8,640.7 L1850.9,641.9 L1852.1,643.0 L1853.3,644.2 L1854.4,645.3 L1855.6,646.5 L1856.8,647.6 L1858.0,648.8 L1859.1,650.0 L1860.3,651.1 L1861.5,652.3 L1862.7,653.4 L1863.8,654.6 L1865.0,655.7 L1866.2,656.9 L1867.4,658.1 L1868.5,659.2 L1869.7,660.4 L1870.9,661.5 L1872.1,662.7 L1873.2,663.8 L1874.4,665.0 L1875.6,666.2 L1876.8,667.3 L1878.0,668.5 L1879.1,669.6 L1880.3,670.8 L1881.5,671.9 L1882.7,673.1 L1883.8,674.3 L1885.0,675.4 L1886.2,676.6 L1887.3,677.7 L1888.5,678.9 L1889.7,680.0 L1890.9,681.2 L1892.0,682.4 L1893.2,683.5 L1894.4,684.7 L1895.6,685.8 L1896.8,687.0 L1897.9,688.1 L1899.1,689.3 L1900.3,690.5 L1901.4,691.6 L1902.6,692.8 L1903.8,693.9 L1905.0,695.1 L1906.1,696.2 L1907.3,697.4 L1908.5,698.6 L1909.7,699.7 L1910.8,700.9 L1912.0,702.0 L1913.2,703.2 L1914.4,704.3 L1915.5,705.5 L1916.7,706.7 L1917.9,707.8 L1919.1,709.0 L1920.2,710.1 L1921.4,711.3 L1922.6,712.4 L1923.8,713.6 L1924.9,714.8 L1926.1,715.9 L1927.3,717.1 L1928.5,718.2 L1929.6,719.4 L1930.8,720.5 L1932.0,721.7 L1933.2,722.9 L1934.3,724.0 L1935.5,725.2 L1936.7,726.3 L1937.9,727.5 L1939.0,728.6 L1940.2,729.8 L1941.4,731.0 L1942.6,732.1 L1943.8,733.3 L1944.9,734.4 L1946.1,735.6 L1947.3,736.7 L1948.4,737.9 L1949.6,739.1 L1950.8,740.2 L1952.0,741.4 L1953.2,742.5 L1954.3,743.7 L1955.5,744.9 L1956.7,746.0 L1957.8,747.2 L1959.0,748.3 L1960.2,749.5 L1961.4,750.6 L1962.5,751.8 L1963.7,753.0 L1964.9,754.1 L1966.1,755.3 L1967.2,756.4 L1968.4,757.6 L1969.6,758.7 L1970.8,759.9 L1971.9,761.1 L1973.1,762.2 L1974.3,763.4 L1975.5,764.5 L1976.7,765.7 L1977.8,766.8 L1979.0,768.0 L1980.2,769.2 L1981.3,770.3 L1982.5,771.5 L1983.7,772.6 L1984.9,773.8 L1986.0,774.9 L1987.2,776.1 L1988.4,777.3 L1989.6,778.4 L1990.8,779.6 L1991.9,780.7 L1993.1,781.9 L1994.3,783.0 L1995.4,784.2 L1996.6,785.4 L1997.8,786.5 L1999.0,787.7 L2000.2,788.8 L2001.3,790.0 L2002.5,791.1 L2003.7,792.3 L2004.8,793.5 L2006.0,794.6 L2007.2,795.8 L2008.4,796.9 L2009.5,798.1 L2010.7,799.2 L2011.9,800.4 L2013.1,801.6 L2014.2,802.7 L2015.4,803.9 L2016.6,805.0 L2017.8,806.2 L2018.9,807.3 L2020.1,808.5 L2021.3,809.7 L2022.5,810.8 L2023.6,812.0 L2024.8,813.1 L2026.0,814.3 L2027.2,815.4 L2028.3,816.6 L2029.5,817.7 L2030.7,818.9 L2031.9,820.0 L2033.0,821.2 L2034.2,822.3 L2035.4,823.5 L2036.6,824.6 L2037.8,825.8 L2038.9,826.9 L2040.1,828.1 L2041.3,829.2 L2042.4,830.4 L2043.6,831.5 L2044.8,832.7 L2046.0,833.8 L2047.1,835.0 L2048.3,836.1 L2049.5,837.3 L2050.7,838.4 L2051.8,839.6 L2053.0,840.7 L2054.2,841.9 L2055.4,843.1 L2056.6,844.2 L2057.7,845.4 L2058.9,846.5 L2060.1,847.7 L2061.2,848.8 L2062.4,850.0 L2063.6,851.1 L2064.8,852.3 L2065.9,853.4 L2067.1,854.6 L2068.3,855.7 L2069.5,856.9 L2070.7,858.0 L2071.8,859.2 L2073.0,860.3 L2074.2,861.5 L2075.3,862.6 L2076.5,863.8 L2077.7,864.9 L2078.9,866.1 L2080.1,867.2 L2081.2,868.4 L2082.4,869.5 L2083.6,870.7 L2084.8,871.8 L2085.9,873.0 L2087.1,874.1 L2088.3,875.3 L2089.4,876.4 L2090.6,877.6 L2091.8,878.7 L2093.0,879.9 L2094.2,881.0 L2095.3,882.2 L2096.5,883.3 L2097.7,884.5 L2098.8,885.6 L2100.0,886.8 L2101.2,888.0 L2102.4,889.1 L2103.6,890.3 L2104.7,891.4 L2105.9,892.6 L2107.1,893.7 L2108.2,894.9 L2109.4,896.0 L2110.6,897.2 L2111.8,898.3 L2112.9,899.5 L2114.1,900.6 L2115.3,901.8 L2116.5,902.9 L2117.7,904.1 L2118.8,905.2 L2120.0,906.4 L2121.2,907.5 L2122.3,908.7 L2123.5,909.8 L2124.7,911.0 L2125.9,912.1 L2127.1,913.3 L2128.2,914.4 L2129.4,915.6 L2130.6,916.7 L2131.8,917.9 L2132.9,919.0 L2134.1,920.2 L2135.3,921.3 L2136.4,922.5 L2137.6,923.6 L2138.8,924.8 L2140.0,925.9 L2141.1,927.1 L2142.3,928.2 L2143.5,929.4 L2144.7,930.5 L2145.8,931.7 L2147.0,932.8 L2148.2,934.0 L2149.4,935.2 L2150.5,936.3 L2151.7,937.5 L2152.9,938.6 L2154.1,939.8 L2155.2,940.9 L2156.4,942.1 L2157.6,943.2 L2158.8,944.4 L2159.9,945.5 L2161.1,946.7 L2162.3,947.8 L2163.5,949.0 L2164.6,950.1 L2165.8,951.3 L2167.0,952.4 L2168.2,953.6 L2169.3,954.7 L2170.5,955.9 L2171.7,957.0 L2172.9,958.2 L2174.1,959.3 L2175.2,960.5 L2176.4,961.6 L2177.6,962.8 L2178.8,963.9 L2179.9,965.1 L2181.1,966.2 L2182.3,967.4 L2183.4,968.5 L2184.6,969.7 L2185.8,970.8 L2187.0,972.0 L2188.2,973.1 L2189.3,974.3 L2190.5,975.4 L2191.7,976.6 L2192.8,977.7 L2194.0,978.9 L2195.2,980.1 L2196.4,981.2 L2197.6,982.4 L2198.7,983.5 L2199.9,984.7 L2201.1,985.8 L2202.2,987.0 L2203.4,988.1 L2204.6,989.3 L2205.8,990.4 L2206.9,991.6 L2208.1,992.7 L2209.3,993.9 L2210.5,995.0 L2211.7,996.2 L2212.8,997.3 L2214.0,998.5 L2215.2,999.6 L2216.3,1000.8 L2217.5,1001.9 L2218.7,1003.1 L2219.9,1004.2 L2221.1,1005.4 L2222.2,1006.5 L2223.4,1007.7 L2224.6,1008.8 L2225.8,1010.0 L2226.9,1011.1 L2228.1,1012.3 L2229.3,1013.4 L2230.4,1014.6 L2231.6,1015.7 L2232.8,1016.9 L2234.0,1018.0 L2235.2,1019.2 L2236.3,1020.3 L2237.5,1021.5 L2238.7,1022.6 L2239.8,1023.8 L2241.0,1025.0 L2242.2,1026.1 L2243.4,1027.3 L2244.6,1028.4 L2245.7,1029.6 L2246.9,1030.7 L2248.1,1031.9 L2249.2,1033.0 L2250.4,1034.2 L2251.6,1035.3 L2252.8,1036.5 L2253.9,1037.6 L2255.1,1038.8 L2256.3,1039.9 L2257.5,1041.1 L2258.6,1042.2 L2259.8,1043.4 L2261.0,1044.5 L2262.2,1045.7 L2263.3,1046.8 L2264.5,1048.0 L2265.7,1049.1 L2266.9,1050.3 L2268.0,1051.4 L2269.2,1052.6 L2270.4,1053.7 L2271.6,1054.9 L2272.8,1056.0 L2273.9,1057.2 L2275.1,1058.3 L2276.3,1059.5 L2277.4,1060.6 L2278.6,1061.8 L2279.8,1062.9 L2281.0,1064.1 L2282.1,1065.2 L2283.3,1066.4 L2284.5,1067.5 L2285.7,1068.7 L2286.8,1069.9 L2288.0,1071.0 L2289.2,1072.2 L2290.4,1073.3 L2291.6,1074.5 L2292.7,1075.6 L2293.9,1076.8 L2295.1,1077.9 L2296.2,1079.1 L2297.4,1080.2 L2298.6,1081.4 L2299.8,1082.5 L2300.9,1083.7 L2302.1,1084.8 L2303.3,1086.0 L2304.5,1087.1 L2305.7,1088.3 L2306.8,1089.4 L2308.0,1090.6 L2309.2,1091.7 L2310.3,1092.9 L2311.5,1094.0 L2312.7,1095.2 L2313.9,1096.3 L2315.1,1097.5 L2316.2,1098.6 L2317.4,1099.8 L2318.6,1100.9 L2319.8,1102.1 L2320.9,1103.2 L2322.1,1104.4 L2323.3,1105.5 L2324.4,1106.7 L2325.6,1107.8 L2326.8,1109.0 L2328.0,1110.1 L2329.2,1111.3 L2330.3,1112.4 L2331.5,1113.6 L2332.7,1114.8 L2333.8,1115.9 L2335.0,1117.1 L2336.2,1118.2 L2337.4,1119.4 L2338.6,1120.5 L2339.7,1121.7 L2340.9,1122.8 L2342.1,1124.0 L2343.2,1125.1 L2344.4,1126.3 L2345.6,1127.4"/>
<path stroke="#003300" stroke-width="5.6" d="M1404.6,239.4 L1406.8,239.9 L1407.9,240.3 L1409.1,240.8 L1410.3,241.3 L1411.5,241.8 L1412.6,242.3 L1413.8,242.7 L1415.0,243.2 L1416.2,243.7 L1417.3,244.3 L1418.5,244.8 L1419.7,245.3 L1420.9,245.8 L1422.0,246.3 L1423.2,246.9 L1424.4,247.4 L1425.6,248.0 L1426.8,248.5 L1427.9,249.1 L1429.1,249.6 L1430.3,250.2 L1431.4,250.8 L1432.6,251.4 L1433.8,252.0 L1435.0,252.5 L1436.1,253.1 L1437.3,253.8 L1438.5,254.4 L1439.7,255.0 L1440.8,255.6 L1442.0,256.2 L1443.2,256.9 L1444.4,257.5 L1445.5,258.1 L1446.7,258.8 L1447.9,259.4 L1449.1,260.1 L1450.2,260.8 L1451.4,261.4 L1452.6,262.1 L1453.8,262.8 L1454.9,263.5 L1456.1,264.2 L1457.3,264.9 L1458.5,265.6 L1459.6,266.3 L1460.8,267.0 L1462.0,267.7 L1463.2,268.4 L1464.3,269.2 L1465.5,269.9 L1466.7,270.7 L1467.9,271.4 L1469.0,272.2 L1470.2,272.9 L1471.4,273.7 L1472.6,274.5 L1473.8,275.2 L1474.9,276.0 L1476.1,276.8 L1477.3,277.6 L1478.4,278.4 L1479.6,279.2 L1480.8,280.0 L1482.0,280.8 L1483.1,281.6 L1484.3,282.4 L1485.5,283.3 L1486.7,284.1 L1487.8,284.9 L1489.0,285.8 L1490.2,286.6 L1491.4,287.5 L1492.5,288.3 L1493.7,289.2 L1494.9,290.1 L1496.1,290.9 L1497.2,291.8 L1498.4,292.7 L1499.6,293.6 L1500.8,294.4 L1501.9,295.3 L1503.1,296.2 L1504.3,297.1 L1505.5,298.0 L1506.6,299.0 L1507.8,299.9 L1509.0,300.8 L1510.2,301.7 L1511.3,302.6 L1512.5,303.6 L1513.7,304.5 L1514.9,305.5 L1516.0,306.4 L1517.2,307.3 L1518.4,308.3 L1519.6,309.3 L1520.8,310.2 L1521.9,311.2 L1523.1,312.1 L1524.3,313.1 L1525.4,314.1 L1526.6,315.1 L1527.8,316.0 L1529.0,317.0 L1530.1,318.0 L1531.3,319.0 L1532.5,320.0 L1533.7,321.0 L1534.8,322.0 L1536.0,323.0 L1537.2,324.0 L1538.4,325.0 L1539.5,326.0 L1540.7,327.1 L1541.9,328.1 L1543.1,329.1 L1544.2,330.1 L1545.4,331.2 L1546.6,332.2 L1547.8,333.2 L1548.9,334.3 L1550.1,335.3 L1551.3,336.4 L1552.5,337.4 L1553.6,338.5 L1554.8,339.5 L1556.0,340.6 L1557.2,341.6 L1558.3,342.7 L1559.5,343.7 L1560.7,344.8 L1561.9,345.9 L1563.0,346.9 L1564.2,348.0 L1565.4,349.1 L1566.6,350.1 L1567.8,351.2 L1568.9,352.3 L1570.1,353.4 L1571.3,354.5 L1572.4,355.5 L1573.6,356.6 L1574.8,357.7 L1576.0,358.8 L1577.1,359.9 L1578.3,361.0 L1579.5,362.1 L1580.7,363.2 L1581.8,364.3 L1583.0,365.4 L1584.2,366.5 L1585.4,367.6 L1586.5,368.7 L1587.7,369.8 L1588.9,370.9 L1590.1,372.0 L1591.2,373.1 L1592.4,374.2 L1593.6,375.3 L1594.8,376.5 L1595.9,377.6 L1597.1,378.7 L1598.3,379.8 L1599.5,380.9 L1600.6,382.0 L1601.8,383.2 L1603.0,384.3 L1604.2,385.4 L1605.3,386.5 L1606.5,387.7 L1607.7,388.8 L1608.9,389.9 L1610.0,391.0 L1611.2,392.2 L1612.4,393.3 L1613.6,394.4 L1614.8,395.5 L1615.9,396.7 L1617.1,397.8 L1618.3,398.9 L1619.4,400.1 L1620.6,401.2 L1621.8,402.3 L1623.0,403.5 L1624.1,404.6 L1625.3,405.8 L1626.5,406.9 L1627.7,408.0 L1628.8,409.2 L1630.0,410.3 L1631.2,411.5 L1632.4,412.6 L1633.5,413.7 L1634.7,414.9 L1635.9,416.0 L1637.1,417.2 L1638.2,418.3 L1639.4,419.5 L1640.6,420.6 L1641.8,421.7 L1642.9,422.9 L1644.1,424.0 L1645.3,425.2 L1646.5,426.3 L1647.6,427.5 L1648.8,428.6 L1650.0,429.8 L1651.2,430.9 L1652.3,432.1 L1653.5,433.2 L1654.7,434.4 L1655.9,435.5 L1657.0,436.7 L1658.2,437.8 L1659.4,439.0 L1660.6,440.1 L1661.8,441.3 L1662.9,442.4 L1664.1,443.6 L1665.3,444.7 L1666.4,445.9 L1667.6,447.0 L1668.8,448.2 L1670.0,449.3 L1671.1,450.5 L1672.3,451.6 L1673.5,452.8 L1674.7,453.9 L1675.8,455.1 L1677.0,456.2 L1678.2,457.4 L1679.4,458.5 L1680.5,459.7 L1681.7,460.8 L1682.9,462.0 L1684.1,463.1 L1685.2,464.3 L1686.4,465.5 L1687.6,466.6 L1688.8,467.8 L1689.9,468.9 L1691.1,470.1 L1692.3,471.2 L1693.5,472.4 L1694.6,473.5 L1695.8,474.7 L1697.0,475.8 L1698.2,477.0 L1699.3,478.2 L1700.5,479.3 L1701.7,480.5 L1702.9,481.6 L1704.0,482.8 L1705.2,483.9 L1706.4,485.1 L1707.6,486.2 L1708.8,487.4 L1709.9,488.6 L1711.1,489.7 L1712.3,490.9 L1713.4,492.0 L1714.6,493.2 L1715.8,494.3 L1717.0,495.5 L1718.1,496.6 L1719.3,497.8 L1720.5,499.0 L1721.7,500.1 L1722.8,501.3 L1724.0,502.4 L1725.2,503.6 L1726.4,504.7 L1727.5,505.9 L1728.7,507.1 L1729.9,508.2 L1731.1,509.4 L1732.2,510.5 L1733.4,511.7 L1734.6,512.8 L1735.8,514.0 L1736.9,515.1 L1738.1,516.3 L1739.3,517.5 L1740.5,518.6 L1741.6,519.8 L1742.8,520.9 L1744.0,522.1 L1745.2,523.2 L1746.3,524.4 L1747.5,525.6 L1748.7,526.7 L1749.9,527.9 L1751.0,529.0 L1752.2,530.2 L1753.4,531.3 L1754.6,532.5 L1755.8,533.7 L1756.9,534.8 L1758.1,536.0 L1759.3,537.1 L1760.4,538.3 L1761.6,539.4 L1762.8,540.6 L1764.0,541.8 L1765.1,542.9 L1766.3,544.1 L1767.5,545.2 L1768.7,546.4 L1769.8,547.5 L1771.0,548.7 L1772.2,549.9 L1773.4,551.0 L1774.5,552.2 L1775.7,553.3 L1776.9,554.5 L1778.1,555.6 L1779.2,556.8 L1780.4,558.0 L1781.6,559.1 L1782.8,560.3 L1783.9,561.4 L1785.1,562.6 L1786.3,563.7 L1787.5,564.9 L1788.6,566.1 L1789.8,567.2 L1791.0,568.4 L1792.2,569.5 L1793.3,570.7 L1794.5,571.8 L1795.7,573.0 L1796.9,574.2 L1798.0,575.3 L1799.2,576.5 L1800.4,577.6 L1801.6,578.8 L1802.8,579.9 L1803.9,581.1 L1805.1,582.3 L1806.3,583.4 L1807.4,584.6 L1808.6,585.7 L1809.8,586.9 L1811.0,588.0 L1812.1,589.2 L1813.3,590.4 L1814.5,591.5 L1815.7,592.7 L1816.8,593.8 L1818.0,595.0 L1819.2,596.1 L1820.4,597.3 L1821.5,598.5 L1822.7,599.6 L1823.9,600.8 L1825.1,601.9 L1826.2,603.1 L1827.4,604.2 L1828.6,605.4 L1829.8,606.6 L1830.9,607.7 L1832.1,608.9 L1833.3,610.0 L1834.5,611.2 L1835.6,612.3 L1836.8,613.5 L1838.0,614.7 L1839.2,615.8 L1840.3,617.0 L1841.5,618.1 L1842.7,619.3 L1843.9,620.4 L1845.0,621.6 L1846.2,622.8 L1847.4,623.9 L1848.6,625.1 L1849.8,626.2 L1850.9,627.4 L1852.1,628.5 L1853.3,629.7 L1854.4,630.9 L1855.6,632.0 L1856.8,633.2 L1858.0,634.3 L1859.1,635.5 L1860.3,636.6 L1861.5,637.8 L1862.7,639.0 L1863.8,640.1 L1865.0,641.3 L1866.2,642.4 L1867.4,643.6 L1868.5,644.7 L1869.7,645.9 L1870.9,647.1 L1872.1,648.2 L1873.2,649.4 L1874.4,650.5 L1875.6,651.7 L1876.8,652.8 L1878.0,654.0 L1879.1,655.2 L1880.3,656.3 L1881.5,657.5 L1882.7,658.6 L1883.8,659.8 L1885.0,660.9 L1886.2,662.1 L1887.3,663.3 L1888.5,664.4 L1889.7,665.6 L1890.9,666.7 L1892.0,667.9 L1893.2,669.0 L1894.4,670.2 L1895.6,671.4 L1896.8,672.5 L1897.9,673.7 L1899.1,674.8 L1900.3,676.0 L1901.4,677.1 L1902.6,678.3 L1903.8,679.5 L1905.0,680.6 L1906.1,681.8 L1907.3,682.9 L1908.5,684.1 L1909.7,685.3 L1910.8,686.4 L1912.0,687.6 L1913.2,688.7 L1914.4,689.9 L1915.5,691.0 L1916.7,692.2 L1917.9,693.4 L1919.1,694.5 L1920.2,695.7 L1921.4,696.8 L1922.6,698.0 L1923.8,699.1 L1924.9,700.3 L1926.1,701.5 L1927.3,702.6 L1928.5,703.8 L1929.6,704.9 L1930.8,706.1 L1932.0,707.2 L1933.2,708.4 L1934.3,709.6 L1935.5,710.7 L1936.7,711.9 L1937.9,713.0 L1939.0,714.2 L1940.2,715.3 L1941.4,716.5 L1942.6,717.7 L1943.8,718.8 L1944.9,720.0 L1946.1,721.1 L1947.3,722.3 L1948.4,723.4 L1949.6,724.6 L1950.8,725.8 L1952.0,726.9 L1953.2,728.1 L1954.3,729.2 L1955.5,730.4 L1956.7,731.5 L1957.8,732.7 L1959.0,733.9 L1960.2,735.0 L1961.4,736.2 L1962.5,737.3 L1963.7,738.5 L1964.9,739.6 L1966.1,740.8 L1967.2,742.0 L1968.4,743.1 L1969.6,744.3 L1970.8,745.4 L1971.9,746.6 L1973.1,747.7 L1974.3,748.9 L1975.5,750.1 L1976.7,751.2 L1977.8,752.4 L1979.0,753.5 L1980.2,754.7 L1981.3,755.8 L1982.5,757.0 L1983.7,758.2 L1984.9,759.3 L1986.0,760.5 L1987.2,761.6 L1988.4,762.8 L1989.6,763.9 L1990.8,765.1 L1991.9,766.3 L1993.1,767.4 L1994.3,768.6 L1995.4,769.7 L1996.6,770.9 L1997.8,772.0 L1999.0,773.2 L2000.2,774.4 L2001.3,775.5 L2002.5,776.7 L2003.7,777.8 L2004.8,779.0 L2006.0,780.1 L2007.2,781.3 L2008.4,782.5 L2009.5,783.6 L2010.7,784.8 L2011.9,785.9 L2013.1,787.1 L2014.2,788.2 L2015.4,789.4 L2016.6,790.6 L2017.8,791.7 L2018.9,792.9 L2020.1,794.0 L2021.3,795.2 L2022.5,796.3 L2023.6,797.5 L2024.8,798.6 L2026.0,799.8 L2027.2,800.9 L2028.3,802.1 L2029.5,803.2 L2030.7,804.4 L2031.9,805.5 L2033.0,806.7 L2034.2,807.8 L2035.4,809.0 L2036.6,810.1 L2037.8,811.3 L2038.9,812.4 L2040.1,813.6 L2041.3,814.7 L2042.4,815.9 L2043.6,817.0 L2044.8,818.2 L2046.0,819.3 L2047.1,820.5 L2048.3,821.6 L2049.5,822.8 L2050.7,823.9 L2051.8,825.1 L2053.0,826.2 L2054.2,827.4 L2055.4,828.5 L2056.6,829.6 L2057.7,830.8 L2058.9,831.9 L2060.1,833.1 L2061.2,834.2 L2062.4,835.4 L2063.6,836.5 L2064.8,837.7 L2065.9,838.8 L2067.1,840.0 L2068.3,841.1 L2069.5,842.3 L2070.7,843.4 L2071.8,844.6 L2073.0,845.7 L2074.2,846.9 L2075.3,848.0 L2076.5,849.2 L2077.7,850.3 L2078.9,851.5 L2080.1,852.6 L2081.2,853.8 L2082.4,854.9 L2083.6,856.1 L2084.8,857.2 L2085.9,858.4 L2087.1,859.5 L2088.3,860.7 L2089.4,861.8 L2090.6,862.9 L2091.8,864.1 L2093.0,865.2 L2094.2,866.4 L2095.3,867.5 L2096.5,868.7 L2097.7,869.8 L2098.8,871.0 L2100.0,872.1 L2101.2,873.3 L2102.4,874.4 L2103.6,875.6 L2104.7,876.7 L2105.9,877.9 L2107.1,879.0 L2108.2,880.2 L2109.4,881.3 L2110.6,882.5 L2111.8,883.6 L2112.9,884.8 L2114.1,885.9 L2115.3,887.1 L2116.5,888.2 L2117.7,889.4 L2118.8,890.5 L2120.0,891.7 L2121.2,892.8 L2122.3,894.0 L2123.5,895.1 L2124.7,896.2 L2125.9,897.4 L2127.1,898.5 L2128.2,899.7 L2129.4,900.8 L2130.6,902.0 L2131.8,903.1 L2132.9,904.3 L2134.1,905.4 L2135.3,906.6 L2136.4,907.7 L2137.6,908.9 L2138.8,910.0 L2140.0,911.2 L2141.1,912.3 L2142.3,913.5 L2143.5,914.6 L2144.7,915.8 L2145.8,916.9 L2147.0,918.1 L2148.2,919.2 L2149.4,920.4 L2150.5,921.5 L2151.7,922.7 L2152.9,923.8 L2154.1,925.0 L2155.2,926.1 L2156.4,927.3 L2157.6,928.4 L2158.8,929.5 L2159.9,930.7 L2161.1,931.8 L2162.3,933.0 L2163.5,934.1 L2164.6,935.3 L2165.8,936.4 L2167.0,937.6 L2168.2,938.7 L2169.3,939.9 L2170.5,941.0 L2171.7,942.2 L2172.9,943.3 L2174.1,944.5 L2175.2,945.6 L2176.4,946.8 L2177.6,947.9 L2178.8,949.1 L2179.9,950.2 L2181.1,951.4 L2182.3,952.5 L2183.4,953.7 L2184.6,954.8 L2185.8,956.0 L2187.0,957.1 L2188.2,958.3 L2189.3,959.4 L2190.5,960.6 L2191.7,961.7 L2192.8,962.8 L2194.0,964.0 L2195.2,965.1 L2196.4,966.3 L2197.6,967.4 L2198.7,968.6 L2199.9,969.7 L2201.1,970.9 L2202.2,972.0 L2203.4,973.2 L2204.6,974.3 L2205.8,975.5 L2206.9,976.6 L2208.1,977.8 L2209.3,978.9 L2210.5,980.1 L2211.7,981.2 L2212.8,982.4 L2214.0,983.5 L2215.2,984.7 L2216.3,985.8 L2217.5,987.0 L2218.7,988.1 L2219.9,989.3 L2221.1,990.4 L2222.2,991.6 L2223.4,992.7 L2224.6,993.9 L2225.8,995.0 L2226.9,996.1 L2228.1,997.3 L2229.3,998.4 L2230.4,999.6 L2231.6,1000.7 L2232.8,1001.9 L2234.0,1003.0 L2235.2,1004.2 L2236.3,1005.3 L2237.5,1006.5 L2238.7,1007.6 L2239.8,1008.8 L2241.0,1009.9 L2242.2,1011.1 L2243.4,1012.2 L2244.6,1013.4 L2245.7,1014.5 L2246.9,1015.7 L2248.1,1016.8 L2249.2,1018.0 L2250.4,1019.1 L2251.6,1020.3 L2252.8,1021.4 L2253.9,1022.6 L2255.1,1023.7 L2256.3,1024.9 L2257.5,1026.0 L2258.6,1027.2 L2259.8,1028.3 L2261.0,1029.4 L2262.2,1030.6 L2263.3,1031.7 L2264.5,1032.9 L2265.7,1034.0 L2266.9,1035.2 L2268.0,1036.3 L2269.2,1037.5 L2270.4,1038.6 L2271.6,1039.8 L2272.8,1040.9 L2273.9,1042.1 L2275.1,1043.2 L2276.3,1044.4 L2277.4,1045.5 L2278.6,1046.7 L2279.8,1047.8 L2281.0,1049.0 L2282.1,1050.1 L2283.3,1051.3 L2284.5,1052.4 L2285.7,1053.6 L2286.8,1054.7 L2288.0,1055.9 L2289.2,1057.0 L2290.4,1058.2 L2291.6,1059.3 L2292.7,1060.5 L2293.9,1061.6 L2295.1,1062.7 L2296.2,1063.9 L2297.4,1065.0 L2298.6,1066.2 L2299.8,1067.3 L2300.9,1068.5 L2302.1,1069.6 L2303.3,1070.8 L2304.5,1071.9 L2305.7,1073.1 L2306.8,1074.2 L2308.0,1075.4 L2309.2,1076.5 L2310.3,1077.7 L2311.5,1078.8 L2312.7,1080.0 L2313.9,1081.1 L2315.1,1082.3 L2316.2,1083.4 L2317.4,1084.6 L2318.6,1085.7 L2319.8,1086.9 L2320.9,1088.0 L2322.1,1089.2 L2323.3,1090.3 L2324.4,1091.5 L2325.6,1092.6 L2326.8,1093.8 L2328.0,1094.9 L2329.2,1096.0 L2330.3,1097.2 L2331.5,1098.3 L2332.7,1099.5 L2333.8,1100.6 L2335.0,1101.8 L2336.2,1102.9 L2337.4,1104.1 L2338.6,1105.2 L2339.7,1106.4 L2340.9,1107.5 L2342.1,1108.7 L2343.2,1109.8 L2344.4,1111.0 L2345.6,1112.1"/>
</g>
<text class="dj" transform="translate(624.37,1520.85) scale(0.4674,0.4607)">z</text>
<g transform="translate(1807,1521.8)">
<text class="it" transform="translate(-3.37,0.00) scale(0.6272,0.5708)">l</text>
<text class="it" transform="translate(15.26,-0.04) scale(0.5455,0.5444)">o</text>
<text class="it" transform="translate(41.10,-0.23) scale(0.5681,0.5377)">g</text>
<text class="rm" transform="translate(71.62,0.02) scale(0.5437,0.6201)">(</text>
<text class="dj" transform="translate(92.44,-1.13) scale(0.4397,0.4519)">z</text>
<text class="rm" transform="translate(118.10,0.02) scale(0.5541,0.6201)">)</text>
</g>
<g transform="translate(57.2,827.1) rotate(-90)">
<text class="it" transform="translate(-0.83,-0.90) scale(0.7397,0.5599)">f</text>
<text class="it" transform="translate(25.41,7.90) scale(0.4753,0.4153)">Z</text>
<text class="rm" transform="translate(57.80,-0.28) scale(0.5476,0.6201)">(</text>
<text class="dj" transform="translate(78.46,-1.15) scale(0.4637,0.4607)">z</text>
<text class="rm" transform="translate(104.21,-0.28) scale(0.5502,0.6201)">)</text>
</g>
<g transform="translate(1294.5,935.1) rotate(-90)">
<text class="it" transform="translate(-3.48,0.30) scale(0.6469,0.5766)">l</text>
<text class="it" transform="translate(15.63,0.06) scale(0.5568,0.5444)">o</text>
<text class="it" transform="translate(42.00,-0.12) scale(0.5511,0.5421)">g</text>
<text class="rm" transform="translate(71.72,0.58) scale(0.5437,0.6223)">(</text>
<text class="rm" transform="translate(90.36,-0.60) scale(0.5418,0.5561)">1</text>
<text class="rm" transform="translate(129.34,5.34) scale(0.7527,0.5800)">−</text>
<text class="it" transform="translate(185.52,-0.50) scale(0.6413,0.5802)">F</text>
<text class="it" transform="translate(219.61,8.60) scale(0.4698,0.4153)">Z</text>
<text class="rm" transform="translate(252.97,0.58) scale(0.5087,0.6223)">(</text>
<text class="dj" transform="translate(273.74,-0.36) scale(0.4416,0.4642)">z</text>
<text class="rm" transform="translate(299.22,0.58) scale(0.5463,0.6223)">)</text>
<text class="rm" transform="translate(320.19,0.58) scale(0.5580,0.6223)">)</text>
</g>
<rect x="501" y="11" width="1613" height="80" fill="#262626"/><rect x="504" y="13.2" width="1607" height="74.8" fill="#fff"/>
<g stroke-width="5" fill="none" shape-rendering="crispEdges"><path stroke="#808080" d="M514,49.5H640"/><path stroke="#339933" d="M917,49.5H1044"/><path stroke="#003300" d="M1327.5,49.5H1454"/></g>
<text class="lg" transform="translate(0,62.9) scale(0.61,0.55)" x="1063.9 1086.5 1131.3 1174.4 1208.2 1254.3 1301.8 1334.7 1411.3 1453.4" y="0">log-normal</text>
<text class="lg" transform="translate(0,62.9) scale(0.61,0.55)" x="1722.0 1776.0 1810.4 1857.4 1905.5 1947.6 1995.6 2025.6 2051.7" y="0">Student’s</text>
<text class="lg" transform="translate(0,62.9) scale(0.61,0.55)" x="2120.5" y="0">t</text>
<text class="lg" transform="translate(0,62.9) scale(0.61,0.55)" x="2396.7 2419.3 2464.1 2507.2 2541.0 2587.1 2634.6 2667.5 2744.0 2786.2" y="0">log-normal</text>
<text class="lg" transform="translate(0,62.9) scale(0.61,0.55)" x="2843.9 2886.8 2936.0" y="0">and</text>
<text class="lg" transform="translate(0,62.9) scale(0.61,0.55)" x="3012.3 3066.4 3100.8 3147.7 3195.8 3237.9 3286.0 3315.9 3342.0" y="0">Student’s</text>
<text class="lg" transform="translate(0,62.9) scale(0.61,0.55)" x="3410.8" y="0">t</text>
</svg></body></html>
